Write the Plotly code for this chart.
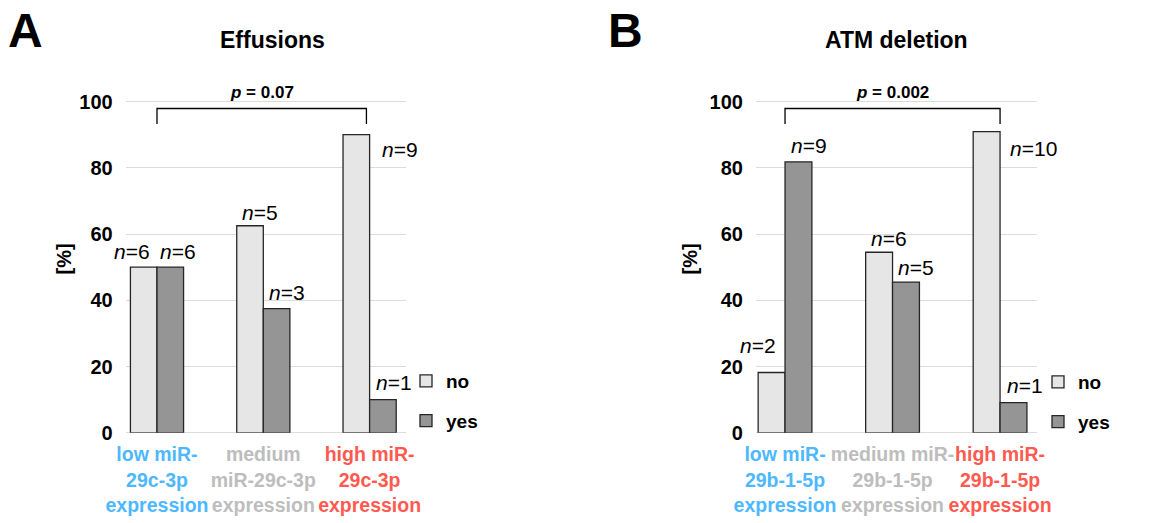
import plotly.graph_objects as go

# ---------------- data ----------------
cats_a = ["low miR-<br>29c-3p<br>expression",
          "medium<br>miR-29c-3p<br>expression",
          "high miR-<br>29c-3p<br>expression"]
cats_b = ["low miR-<br>29b-1-5p<br>expression",
          "medium miR-<br>29b-1-5p<br>expression",
          "high miR-<br>29b-1-5p<br>expression"]
cat_colors = ["#4db8ff", "#bdbdbd", "#ff5a50"]

no_a = [50.0, 62.5, 90.0]
yes_a = [50.0, 37.5, 10.0]
n_no_a = [6, 5, 9]
n_yes_a = [6, 3, 1]

no_b = [18.2, 54.5, 90.9]
yes_b = [81.8, 45.5, 9.1]
n_no_b = [2, 6, 10]
n_yes_b = [9, 5, 1]

title_a = "Effusions"
title_b = "ATM deletion"
p_a = "0.07"
p_b = "0.002"
series_names = ["no", "yes"]
yticks = [0, 20, 40, 60, 80, 100]

# label pixel offsets (style only): (dx, dy) relative to bar top centre
off_no_a = [(-12, 16), (10, 13), (44, -15)]
off_yes_a = [(8, 16), (10, 16), (11, 17)]
off_no_b = [(-14, 27), (10, 14), (47, -17)]
off_yes_b = [(11, 16), (10, 15), (12, 17)]

FONT = "Liberation Sans, Arial, sans-serif"
C_NO = "#e6e6e6"
C_YES = "#959595"
EDGE = "#262626"

fig = go.Figure()

def add_panel(xa, ya, leg, no, yes):
    idx = [0, 1, 2]
    fig.add_trace(go.Bar(x=idx, y=no, name=series_names[0], xaxis=xa, yaxis=ya,
                         marker=dict(color=C_NO, line=dict(color=EDGE, width=1.3)),
                         legend=leg, legendgroup=leg + "no"))
    fig.add_trace(go.Bar(x=idx, y=yes, name=series_names[1], xaxis=xa, yaxis=ya,
                         marker=dict(color=C_YES, line=dict(color=EDGE, width=1.3)),
                         legend=leg, legendgroup=leg + "yes"))

add_panel("x", "y", "legend", no_a, yes_a)
add_panel("x2", "y2", "legend2", no_b, yes_b)

ann = []
shapes = []

def ticktexts(cats):
    return [f"<span style='color:{c}'><b>{t}</b></span>" for t, c in zip(cats, cat_colors)]

axis_common_y = dict(range=[0, 105], tickvals=yticks, showgrid=True, gridcolor="#dcdcdc",
                     gridwidth=1.2, zeroline=True, zerolinecolor="#dcdcdc", zerolinewidth=1.2,
                     showline=False, ticks="", ticklabelstandoff=12, automargin=False,
                     tickfont=dict(family=FONT, size=20, color="black", weight="bold"),
                     domain=[0.1725, 0.8375])
axis_common_x = dict(tickvals=[0, 1, 2], showgrid=False, zeroline=False, ticks="",
                     tickangle=0, automargin=False,
                     tickfont=dict(family=FONT, size=19.5), ticklabelstandoff=8)

fig.update_layout(
    xaxis=dict(**axis_common_x, domain=[0.1072, 0.3461], range=[-0.294, 2.342],
               ticktext=ticktexts(cats_a), anchor="y"),
    yaxis=dict(**axis_common_y, anchor="x",
               title=dict(text="<b>[%]</b>", font=dict(family=FONT, size=20, color="black"),
                          standoff=2)),
    xaxis2=dict(**axis_common_x, domain=[0.6445, 0.8841], range=[-0.27, 2.344],
                ticktext=ticktexts(cats_b), anchor="y2"),
    yaxis2=dict(**axis_common_y, anchor="x2",
                title=dict(text="<b>[%]</b>", font=dict(family=FONT, size=20, color="black"),
                           standoff=6)),
)

def labels(xref, yref, vals, ns, offs, shift):
    for i, (v, n, (dx, dy)) in enumerate(zip(vals, ns, offs)):
        ann.append(dict(x=i + shift, y=v, xref=xref, yref=yref, text=f"<i>n</i>={n}",
                        showarrow=False, xanchor="center", yanchor="middle",
                        xshift=dx, yshift=dy,
                        font=dict(family=FONT, size=21, color="black")))

labels("x", "y", no_a, n_no_a, off_no_a, -0.125)
labels("x", "y", yes_a, n_yes_a, off_yes_a, 0.125)
labels("x2", "y2", no_b, n_no_b, off_no_b, -0.125)
labels("x2", "y2", yes_b, n_yes_b, off_yes_b, 0.125)

def bracket(xref, yref, x0, x1, ptxt):
    path = f"M {x0},93.2 L {x0},97.9 L {x1},97.9 L {x1},93.2"
    shapes.append(dict(type="path", path=path, xref=xref, yref=yref,
                       line=dict(color="black", width=1.3)))
    ann.append(dict(x=(x0 + x1) / 2, y=102.6, xref=xref, yref=yref,
                    text=f"<b><i>p</i> = {ptxt}</b>", showarrow=False,
                    xanchor="center", yanchor="middle",
                    font=dict(family=FONT, size=17, color="black")))

bracket("x", "y", 0.0, 1.97, p_a)
bracket("x2", "y2", 0.0, 2.0, p_b)

# panel titles and letters
for txt, x in [(title_a, 272), (title_b, 897)]:
    ann.append(dict(x=x / 1173, y=1 - 40 / 523, xref="paper", yref="paper",
                    text=f"<b>{txt}</b>", showarrow=False, xanchor="center", yanchor="middle",
                    font=dict(family=FONT, size=23, color="black")))
for txt, x in [("A", 6), ("B", 606)]:
    ann.append(dict(x=x / 1173, y=1 - 30 / 523, xref="paper", yref="paper",
                    text=f"<b>{txt}</b>", showarrow=False, xanchor="left", yanchor="middle",
                    font=dict(family=FONT, size=48, color="black")))

legend_style = dict(font=dict(family=FONT, size=19, color="black", weight="bold"),
                    bgcolor="rgba(0,0,0,0)",
                    traceorder="grouped", tracegroupgap=12, itemwidth=30,
                    xanchor="left", yanchor="top", orientation="v")

fig.update_layout(
    width=1173, height=523,
    margin=dict(l=0, r=0, t=0, b=0),
    paper_bgcolor="white", plot_bgcolor="white",
    barmode="group", bargap=0.5, bargroupgap=0,
    annotations=ann, shapes=shapes,
    legend=dict(**legend_style, x=406 / 1173, y=1 - 362 / 523),
    legend2=dict(**legend_style, x=1038 / 1173, y=1 - 363 / 523),
    font=dict(family=FONT),
)

fig.write_html("out.html", config={"displayModeBar": False},
               post_script="document.body.style.margin='0px';document.body.style.overflow='hidden';")
